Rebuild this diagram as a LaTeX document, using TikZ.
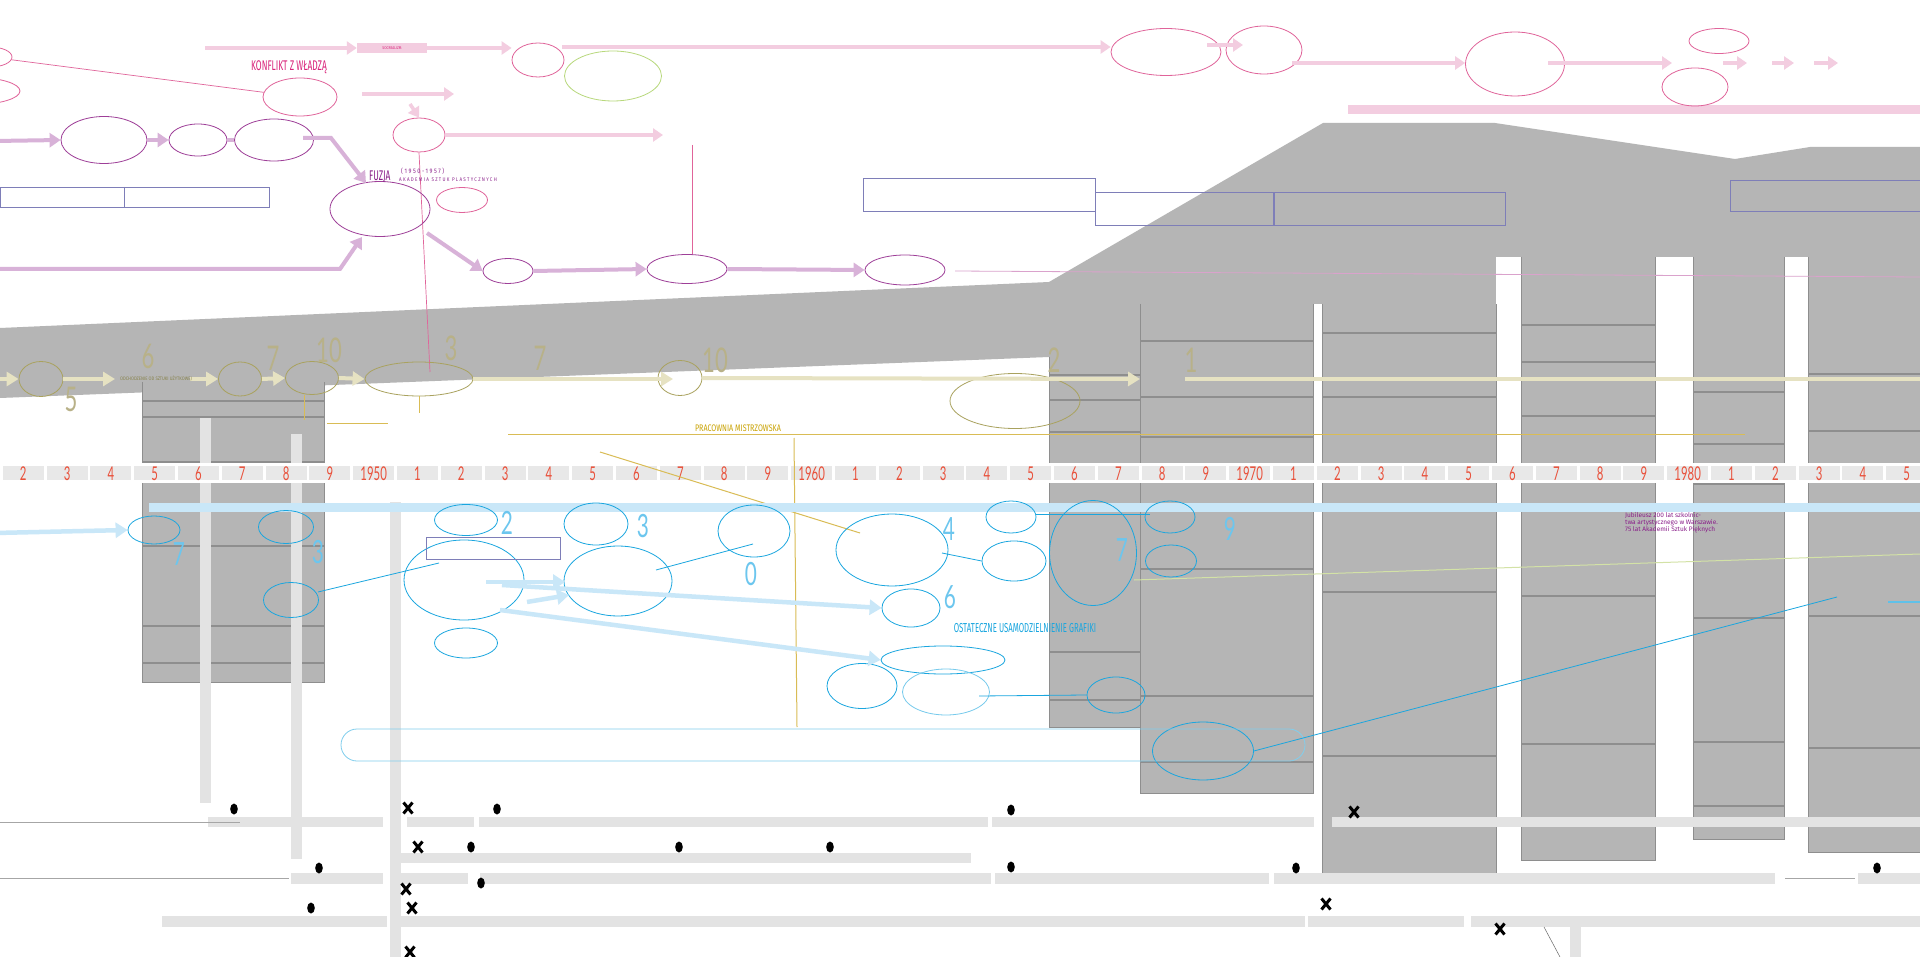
\documentclass[tikz,border=0pt]{standalone}
\usepackage{fontspec}
\setmainfont{Fira Sans}[FakeStretch=0.85]
\newfontfamily\numfont{Lato}[FakeStretch=0.6]
\newfontfamily\bignumfont{Lato}[FakeStretch=0.65]
\newfontfamily\spfont{Fira Sans}[LetterSpace=25,FakeStretch=0.85]
\newfontfamily\condfont{Fira Sans}[FakeStretch=0.75]
\newfontfamily\tallfont{Fira Sans}[FakeStretch=0.6]
\newfontfamily\plainfont{Fira Sans}
\usetikzlibrary{shapes.geometric,arrows.meta}
\definecolor{grayband}{HTML}{B5B5B5}
\definecolor{coldiv}{HTML}{8E8E8E}
\definecolor{cellg}{HTML}{E8E8E8}
\definecolor{yearred}{HTML}{E8503A}
\definecolor{barg}{HTML}{E3E3E3}
\definecolor{pinkl}{HTML}{F3CDE0}
\definecolor{pinkd}{HTML}{E0649A}
\definecolor{pinkt}{HTML}{D9237A}
\definecolor{purpl}{HTML}{D8B2D8}
\definecolor{purpd}{HTML}{9E3F98}
\definecolor{purpt}{HTML}{8A1F8A}
\definecolor{boxb}{HTML}{7E7EB8}
\definecolor{olivl}{HTML}{E6E2C2}
\definecolor{olivd}{HTML}{A9A25E}
\definecolor{olivn}{HTML}{B8B188}
\definecolor{gold}{HTML}{D9BC55}
\definecolor{goldt}{HTML}{C9A200}
\definecolor{cyanb}{HTML}{C9E7F8}
\definecolor{cyand}{HTML}{1AA6DF}
\definecolor{cyann}{HTML}{6CC6EE}
\definecolor{greenl}{HTML}{B8D87C}
\definecolor{greenline}{HTML}{D3E2A6}
\newcommand{\ellnode}[6]{\node[#1,minimum width=#5pt,minimum height=#6pt] (#2) at (#3,#4) {};}
\newcommand{\crossmark}[2]{\draw[line width=3pt,black] (#1-4.5,#2-5.5) -- (#1+4.5,#2+5.5) (#1-4.5,#2+5.5) -- (#1+4.5,#2-5.5);}
\begin{document}
\begin{tikzpicture}[x=1pt,y=-1pt,
  ellbase/.style={ellipse,inner sep=0pt,line width=0.8pt},
  pke/.style={ellbase,draw=pinkd},
  pue/.style={ellbase,draw=purpd},
  ole/.style={ellbase,draw=olivd},
  cye/.style={ellbase,draw=cyand},
  gre/.style={ellbase,draw=greenl},
  pkarr/.style={draw=pinkl,line width=3.5pt,-{Triangle[length=10pt,width=13pt]}},
  puarr/.style={draw=purpl,line width=4pt,-{Triangle[length=11pt,width=14pt]}},
  puline/.style={draw=purpl,line width=4pt},
  olarr/.style={draw=olivl,line width=4pt,-{Triangle[length=12pt,width=14pt]}},
  cyarr/.style={draw=cyanb,line width=4.5pt,-{Triangle[length=12pt,width=15pt]}},
  pkthin/.style={draw=pinkd,line width=0.7pt},
  puthin/.style={draw=purpl!80!pinkd,line width=0.8pt},
  goldthin/.style={draw=gold,line width=1pt},
  cythin/.style={draw=cyand,line width=0.8pt},
  coldivline/.style={draw=coldiv,line width=1.1pt},
  coledge/.style={draw=coldiv,line width=0.8pt},
  pboxs/.style={draw=boxb,line width=0.8pt},
  yr/.style={font=\numfont\fontsize{19}{19}\selectfont,text=yearred,inner sep=0pt},
  olnum/.style={font=\bignumfont\fontsize{34}{34}\selectfont,text=olivn,inner sep=0pt},
  cynum/.style={font=\bignumfont\fontsize{32}{32}\selectfont,text=cyann,inner sep=0pt},
  ]
\useasboundingbox (0,0) rectangle (1920,957);
\fill[white] (0,0) rectangle (1920,957);
% ---------- gray masses ----------
\fill[grayband] (0,328) -- (1049,282) -- (1049,357) -- (0,398) -- cycle;
\fill[grayband] (1049,282) -- (1323,123) -- (1495,123) -- (1735,159) -- (1810,147) -- (1920,147) -- (1920,310) -- (1049,310) -- cycle;
\foreach \a/\b/\t/\c in {142/324/382/682,1049/1140/290/727,1140/1313/290/793,1322/1496/290/873,1521/1655/250/860,1693/1784/250/839,1808/1920/250/852}
  {\fill[grayband] (\a,\t) rectangle (\b,\c);}
\fill[white] (1313,304) rectangle (1322,960);
\fill[white] (1496,257) rectangle (1521,960);
\fill[white] (1655,257) rectangle (1693,960);
\fill[white] (1784,257) rectangle (1808,960);
\foreach \a/\b/\t/\c in {142/324/382/682,1049/1140/357/727,1140/1313/304/793,1322/1496/304/873,1521/1655/257/860,1693/1784/257/839,1808/1922/257/852}
  {\draw[coledge] (\a,\t) -- (\a,\c) -- (\b,\c) -- (\b,\t);}
\foreach \a/\b/\ys in {142/324/{401,417,462,546,626,663},1049/1140/{375,400,432,652,700},1140/1313/{341,397,437,569,696,762},1322/1496/{333,397,592,756},1521/1655/{325,362,416,596,744},1693/1784/{392,444,484,618,742,806},1808/1920/{374,431,616,748}}
  {\foreach \y in \ys {\draw[coldivline] (\a,\y) -- (\b,\y);}}
% light vertical bars
\fill[barg] (200,418) rectangle (211,803);
\fill[barg] (291,434) rectangle (302,859);
\fill[barg] (390,502) rectangle (401,957);
\fill[barg] (1570,927) rectangle (1581,957);
% ---------- timeline ----------
\fill[white] (0,463) rectangle (1920,483);
\foreach \l [count=\i from 0] in {2,3,4,5,6,7,8,9,1950,1,2,3,4,5,6,7,8,9,1960,1,2,3,4,5,6,7,8,9,1970,1,2,3,4,5,6,7,8,9,1980,1,2,3,4,5}
  {\pgfmathsetmacro{\xc}{23.3+43.8*\i}
   \fill[cellg] (\xc-20.5,466) rectangle (\xc+20.5,480);
   \node[yr] (t\i) at (\xc,473.5) {\l};}
% ---------- pink (top) ----------
\fill[pinkl] (1348,105) rectangle (1920,114);
\ellnode{pke}{pa}{-10}{57}{44}{20}
\ellnode{pke}{pb}{-25}{91}{90}{27}
\ellnode{pke}{pc}{300}{97}{74}{38}
\ellnode{pke}{pd}{538}{60}{52}{34}
\ellnode{gre}{gr}{613}{76}{97}{50}
\ellnode{pke}{pe}{1166}{52}{110}{47}
\ellnode{pke}{pf}{1264}{50}{76}{48}
\ellnode{pke}{pg}{1515}{64}{99}{64}
\ellnode{pke}{ph}{1719}{41}{60}{25}
\ellnode{pke}{pi}{1695}{87}{66}{38}
\ellnode{pke}{pj}{419}{135}{52}{34}
\node[fill=pinkl,minimum width=70pt,minimum height=10pt,inner sep=0pt,font=\fontsize{4}{4}\selectfont,text=pinkt] (soc) at (392,48) {SOCREALIZM};
\draw[pkthin] (pa) -- (pc);
\coordinate (k1) at (205,48);
\draw[pkarr] (k1) -- (soc.west);
\draw[pkarr] (soc.east) -- (soc.east -| pd.west);
\coordinate (k2) at (562,47);
\draw[pkarr] (k2) -- (k2 -| pe.west);
\coordinate (k3) at (1207,45); \coordinate (k3b) at (1243,45);
\draw[pkarr] (k3) -- (k3b);
\coordinate (k4) at (1292,63);
\draw[pkarr] (k4) -- (k4 -| pg.west);
\coordinate (k5) at (1548,63); \coordinate (k5b) at (1672,63);
\draw[pkarr] (k5) -- (k5b);
\coordinate (k11) at (1723,63); \coordinate (k11b) at (1747,63);
\draw[pkarr] (k11) -- (k11b);
\coordinate (k12) at (1772,63); \coordinate (k12b) at (1794,63);
\draw[pkarr] (k12) -- (k12b);
\coordinate (k13) at (1814,63); \coordinate (k13b) at (1838,63);
\draw[pkarr] (k13) -- (k13b);
\coordinate (k6) at (362,94); \coordinate (k6b) at (454,94);
\draw[pkarr] (k6) -- (k6b);
\coordinate (k7) at (410,104);
\draw[pkarr] (k7) -- (pj.north);
\coordinate (k8) at (663,135);
\draw[pkarr] (pj.east) -- (k8);
\coordinate (k9) at (430,372);
\draw[pkthin] (pj.south) -- (k9);
\node[font=\tallfont\fontsize{14}{14}\selectfont,text=pinkt,inner sep=0pt] (konf) at (289,67) {KONFLIKT Z WŁADZĄ};
% ---------- purple ----------
\ellnode{pue}{u1}{104}{140}{86}{47}
\ellnode{pue}{u2}{198}{140}{58}{32}
\ellnode{pue}{u3}{274}{140}{79}{42}
\ellnode{pue}{u4}{380}{209}{100}{55}
\ellnode{pue}{u5}{508}{271}{50}{25}
\ellnode{pue}{u6}{687}{269}{80}{29}
\ellnode{pue}{u7}{905}{270}{80}{30}
\ellnode{pke}{u8}{462}{200}{51}{25}
\coordinate (k10) at (692,145);
\draw[pkthin] (k10) -- (k10 |- u6.north);
\coordinate (q0) at (-5,141);
\draw[puarr] (q0) -- (u1.west);
\draw[puarr] (u1.east) -- (u2.west);
\draw[puline] (u2.east) -- (u3.west);
\coordinate (q1) at (303,138); \coordinate (q2) at (331,138); \coordinate (q3) at (366,183);
\draw[puarr] (q1) -- (q2) -- (q3);
\coordinate (q4) at (-5,269); \coordinate (q5) at (340,269); \coordinate (q6) at (362,237);
\draw[puarr] (q4) -- (q5) -- (q6);
\coordinate (q7) at (427,233);
\draw[puarr] (q7) -- (u5.west);
\draw[puarr] (u5.east) -- (u6.west);
\draw[puarr] (u6.east) -- (u7.west);
\coordinate (q8) at (955,271); \coordinate (q9) at (1920,277);
\draw[puthin] (q8) -- (q9);
\node[font=\tallfont\fontsize{14}{14}\selectfont,text=purpt,inner sep=0pt,anchor=west] (fuzja) at (369,177) {FUZJA};
\node[font=\spfont\fontsize{6.5}{6.5}\selectfont,text=purpt,inner sep=0pt,anchor=west] (lata) at (401,171) {(1950-1957)};
\node[font=\spfont\fontsize{5.3}{6}\selectfont,text=purpt,inner sep=0pt,anchor=west] (asp) at (399,180) {AKADEMIA SZTUK PLASTYCZNYCH};
% boxes
\draw[pboxs] (0,187) rectangle (269,207);
\draw[pboxs] (124,187) -- (124,207);
\draw[pboxs] (863,178) rectangle (1095,211);
\draw[pboxs] (1095,192) rectangle (1273,225);
\draw[pboxs] (1274,192) rectangle (1505,225);
\draw[pboxs] (1730,180) rectangle (1925,211);
% ---------- olive ----------
\ellnode{ole}{o1}{41}{379}{44}{35}
\ellnode{ole}{o2}{240}{379}{43}{34}
\ellnode{ole}{o3}{312}{378}{53}{33}
\ellnode{ole}{o4}{419}{379}{108}{34}
\ellnode{ole}{o5}{680}{378}{44}{35}
\ellnode{ole}{o6}{1015}{401}{130}{55}
\coordinate (w0) at (-5,379);
\draw[olarr] (w0) -- (o1.west);
\coordinate (w1) at (115,379);
\draw[olarr] (o1.east) -- (w1);
\coordinate (w2) at (190,379);
\draw[olarr] (w2) -- (o2.west);
\draw[olarr] (o2.east) -- (o3.west);
\draw[olarr] (o3.east) -- (o4.west);
\coordinate (w3) at (673,379);
\draw[olarr] (o4.east) -- (w3);
\coordinate (w4) at (1140,379);
\draw[olarr] (o5.east) -- (w4);
\coordinate (w5) at (1185,379); \coordinate (w6) at (1920,379);
\draw[draw=olivl,line width=4pt] (w5) -- (w6);
\node[font=\fontsize{5}{5}\selectfont,text=olivd!80!black,inner sep=0pt] (odch) at (156,379) {ODCHODZENIE OD SZTUKI UŻYTKOWEJ};
\node[olnum] (n6) at (148,356) {6};
\node[olnum] (n5) at (71,399) {5};
\node[olnum] (n7a) at (273,358) {7};
\node[olnum] (n10a) at (329,350) {10};
\node[olnum] (n3) at (451,348) {3};
\node[olnum] (n7b) at (540,358) {7};
\node[olnum] (n10b) at (715,360) {10};
\node[olnum] (n2) at (1054,360) {2};
\node[olnum] (n1) at (1191,360) {1};
% gold lines
\coordinate (g1) at (419,413);
\draw[goldthin] (o4.south) -- (g1);
\coordinate (g2) at (327,424); \coordinate (g3) at (388,424);
\draw[goldthin] (g2) -- (g3);
\coordinate (g4) at (304,395); \coordinate (g5) at (304,420);
\draw[goldthin] (g4) -- (g5);
\coordinate (g6) at (508,435); \coordinate (g7) at (1745,435);
\draw[goldthin] (g6) -- (g7);
\coordinate (g8) at (794,438); \coordinate (g9) at (797,727);
\draw[goldthin] (g8) -- (g9);
\coordinate (g10) at (600,452); \coordinate (g11) at (860,533);
\draw[goldthin] (g10) -- (g11);
\node[font=\condfont\fontsize{9.5}{10}\selectfont,text=goldt,inner sep=0pt] (pm) at (738,428) {PRACOWNIA MISTRZOWSKA};
\coordinate (gr1) at (1134,580); \coordinate (gr2) at (1920,554);
\draw[draw=greenline,line width=1pt] (gr1) -- (gr2);
% ---------- cyan ----------
\fill[cyanb] (149,503) rectangle (1920,512);
\ellnode{cye}{c1}{154}{530}{52}{28}
\ellnode{cye}{c2}{286}{527}{55}{33}
\ellnode{cye}{c3}{291}{600}{55}{35}
\ellnode{cye}{c4}{466}{520}{63}{31}
\ellnode{cye}{c5}{464}{580}{120}{80}
\ellnode{cye}{c6}{466}{643}{63}{30}
\ellnode{cye}{c7}{596}{524}{64}{42}
\ellnode{cye}{c8}{618}{581}{108}{70}
\ellnode{cye}{f1}{754}{531}{72}{52}
\ellnode{cye}{f2}{892}{550}{112}{72}
\ellnode{cye}{f3}{1011}{517}{50}{32}
\ellnode{cye}{f4}{1014}{561}{64}{40}
\ellnode{cye}{f5}{1093}{553}{87}{105}
\ellnode{cye}{f6}{1170}{517}{50}{32}
\ellnode{cye}{f7}{1171}{561}{51}{32}
\ellnode{cye}{f8}{911}{608}{58}{38}
\ellnode{cye}{f9}{943}{660}{124}{28}
\ellnode{cye}{f10}{862}{686}{70}{45}
\node[ellbase,draw=cyand!60,minimum width=87pt,minimum height=46pt] (f11) at (946,692) {};
\ellnode{cye}{f12}{1116}{695}{58}{36}
\ellnode{cye}{f13}{1203}{751}{101}{58}
\node[draw=cyand!55,line width=0.8pt,rounded corners=16pt,minimum width=964pt,minimum height=32pt,inner sep=0pt] (rb) at (823,745) {};
\node[draw=boxb,line width=0.8pt,minimum width=134pt,minimum height=22pt,inner sep=0pt] (cb) at (493,548) {};
\coordinate (y0) at (-5,533);
\draw[cyarr] (y0) -- (c1.west);
\coordinate (y1) at (318,592); \coordinate (y2) at (439,563);
\draw[cythin] (y1) -- (y2);
\coordinate (y3) at (486,582); \coordinate (y4) at (565,582);
\draw[cyarr] (y3) -- (y4);
\coordinate (y5) at (527,602); \coordinate (y6) at (569,595);
\draw[cyarr] (y5) -- (y6);
\coordinate (y7) at (502,585);
\draw[cyarr] (y7) -- (f8.west);
\coordinate (y8) at (500,610);
\draw[cyarr] (y8) -- (f9.west);
\coordinate (y9) at (656,570); \coordinate (y10) at (753,544);
\draw[cythin] (y9) -- (y10);
\coordinate (y11) at (942,553);
\draw[cythin] (y11) -- (f4.west);
\coordinate (y12) at (1036,514); \coordinate (y13) at (1150,514);
\draw[cythin] (y12) -- (y13);
\coordinate (y14) at (979,696);
\draw[cythin] (y14) -- (f12.west);
\coordinate (y15) at (1837,597);
\draw[cythin] (f13.east) -- (y15);
\coordinate (y16) at (1888,602); \coordinate (y17) at (1920,602);
\draw[draw=cyand!70,line width=1.2pt] (y16) -- (y17);
\node[cynum] (m7a) at (179,554) {7};
\node[cynum] (m3a) at (318,552) {3};
\node[cynum] (m2) at (507,523) {2};
\node[cynum] (m3b) at (643,526) {3};
\node[cynum] (m0) at (751,574) {0};
\node[cynum] (m4) at (949,529) {4};
\node[cynum] (m7b) at (1122,550) {7};
\node[cynum] (m9) at (1230,529) {9};
\node[cynum] (m6) at (950,597) {6};
\node[font=\tallfont\fontsize{13}{13}\selectfont,text=cyand,inner sep=0pt] (ost) at (1025,628) {OSTATECZNE USAMODZIELNIENIE GRAFIKI};
\node[font=\plainfont\fontsize{6.5}{7.2}\selectfont,text=purpt,inner sep=0pt,anchor=north west,align=left] (jub) at (1625,512) {Jubileusz 200 lat szkolnic-\\twa artystycznego w Warszawie.\\75 lat Akademii Sztuk Pięknych};
% ---------- bottom bars ----------
\foreach \a/\b in {208/383,407/474,479/988,992/1314,1332/1920} {\fill[barg] (\a,817) rectangle (\b,827);}
\foreach \a/\b in {390/971} {\fill[barg] (\a,853) rectangle (\b,863);}
\foreach \a/\b in {291/383,390/468,480/991,995/1269,1274/1775,1858/1920} {\fill[barg] (\a,873) rectangle (\b,884);}
\foreach \a/\b in {162/387,394/1305,1308/1464,1471/1920} {\fill[barg] (\a,916) rectangle (\b,927);}
\draw[draw=black!35,line width=1pt] (0,822) -- (240,822);
\draw[draw=black!35,line width=1pt] (0,878) -- (289,878);
\draw[draw=black!35,line width=1pt] (1785,878) -- (1855,878);
\draw[draw=black!60,line width=0.5pt] (1544,927) -- (1560,957);
\foreach \x/\y in {234/809,497/809,471/847,679/847,830/847,319/868,481/883,311/908,1011/810,1011/867,1296/868,1877/868}
  {\fill[black] (\x,\y) ellipse (3.8pt and 5.5pt);}
\crossmark{408}{808}
\crossmark{418}{847}
\crossmark{406}{889}
\crossmark{412}{908}
\crossmark{410}{952}
\crossmark{1354}{812}
\crossmark{1326}{904}
\crossmark{1500}{929}
\end{tikzpicture}
\end{document}
